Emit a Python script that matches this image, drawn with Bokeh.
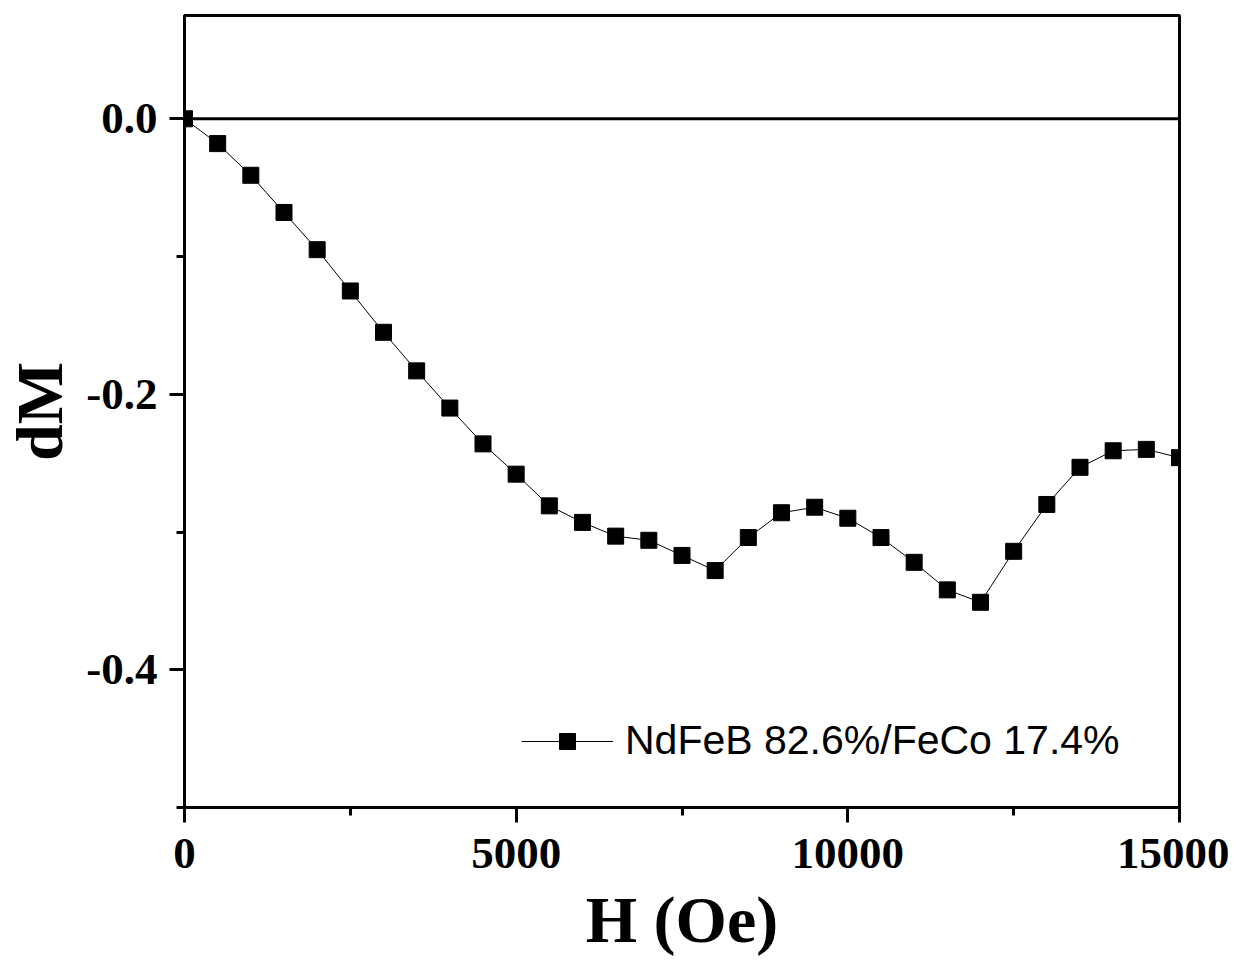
from bokeh.plotting import figure
from bokeh.models import FixedTicker, PrintfTickFormatter, Span, Legend, LegendItem
from bokeh.embed import file_html
from bokeh.resources import INLINE

H_Oe = [0, 500, 1000, 1500, 2000, 2500, 3000, 3500, 4000, 4500, 5000, 5500, 6000, 6500, 7000,
        7500, 8000, 8500, 9000, 9500, 10000, 10500, 11000, 11500, 12000, 12500, 13000, 13500,
        14000, 14500, 15000]
dM = [0.0, -0.018, -0.041, -0.068, -0.095, -0.125, -0.155, -0.183, -0.210, -0.236, -0.258,
      -0.281, -0.293, -0.303, -0.306, -0.317, -0.328, -0.304, -0.286, -0.282, -0.290, -0.304,
      -0.322, -0.342, -0.351, -0.314, -0.280, -0.253, -0.241, -0.240, -0.246]
series_label = "NdFeB 82.6%/FeCo 17.4%"
x_major = [0, 5000, 10000, 15000]
x_minor = [2500, 7500, 12500]
y_major = [-0.4, -0.2, 0.0]
y_minor = [-0.5, -0.3, -0.1]

p = figure(frame_width=995, frame_height=792, output_backend="svg", toolbar_location=None,
           x_range=(0, 15000), y_range=(-0.5, 0.075),
           min_border_left=10, min_border_top=15, min_border_right=50, min_border_bottom=10)
p.background_fill_color = "white"
p.border_fill_color = "white"
p.xgrid.visible = False
p.ygrid.visible = False
p.outline_line_color = "black"
p.outline_line_width = 3

p.xaxis.ticker = FixedTicker(ticks=x_major, minor_ticks=x_minor)
p.yaxis.ticker = FixedTicker(ticks=y_major, minor_ticks=y_minor)
p.xaxis.formatter = PrintfTickFormatter(format="%d")
p.yaxis.formatter = PrintfTickFormatter(format="%.1f")

for ax in (p.xaxis, p.yaxis):
    ax.axis_line_width = 3
    ax.axis_line_color = "black"
    ax.major_tick_line_width = 3
    ax.minor_tick_line_width = 3
    ax.major_tick_out = 15
    ax.major_tick_in = 0
    ax.minor_tick_out = 8
    ax.minor_tick_in = 0
    ax.major_label_text_font = "Liberation Serif"
    ax.major_label_text_font_style = "bold"
    ax.major_label_text_font_size = "45px"
    ax.major_label_text_color = "black"
    ax.axis_label_text_font = "Liberation Serif"
    ax.axis_label_text_font_style = "bold"
    ax.axis_label_text_font_size = "66px"
    ax.axis_label_text_color = "black"

p.xaxis.axis_label = "H (Oe)"
p.yaxis.axis_label = "dM"
p.xaxis.major_label_standoff = 16
p.yaxis.major_label_standoff = 12
p.xaxis.axis_label_standoff = 12
p.yaxis.axis_label_standoff = 7

p.add_layout(Span(location=0, dimension="width", line_color="black", line_width=3))

r_line = p.line(H_Oe, dM, line_color="black", line_width=1)
r_pts = p.scatter(H_Oe, dM, marker="square", size=16, fill_color="black", line_color="black")

legend = Legend(items=[LegendItem(label=series_label, renderers=[r_line, r_pts])],
                location=(337, 43), border_line_color=None, background_fill_alpha=0,
                label_text_font="Liberation Sans", label_text_font_size="41px",
                label_text_color="black",
                glyph_width=92, glyph_height=40, padding=0, margin=0, label_standoff=12)
p.add_layout(legend)

open("out.html", "w").write(file_html(p, INLINE))
